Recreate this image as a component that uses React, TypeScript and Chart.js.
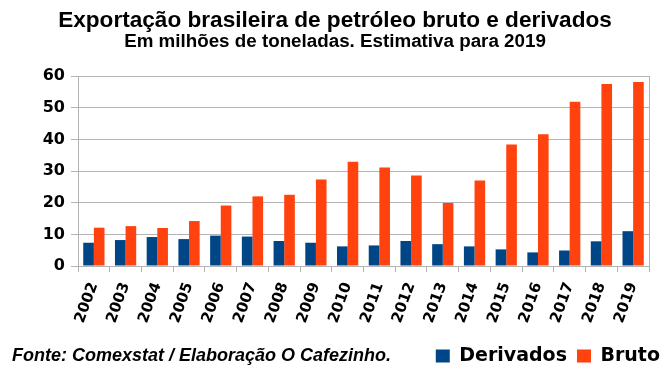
import React, { useEffect, useRef } from "react";
import { Chart, registerables } from "chart.js";

Chart.register(...registerables);

const titleText = "Exportação brasileira de petróleo bruto e derivados";
const subtitleText = "Em milhões de toneladas. Estimativa para 2019";
const footerText = "Fonte: Comexstat / Elaboração O Cafezinho.";

const years = [
  "2002", "2003", "2004", "2005", "2006", "2007", "2008", "2009", "2010",
  "2011", "2012", "2013", "2014", "2015", "2016", "2017", "2018", "2019",
];
const derivados = [7.35, 8.2, 9.15, 8.5, 9.6, 9.3, 7.9, 7.35, 6.2, 6.5, 7.9, 6.9, 6.2, 5.25, 4.3, 4.9, 7.8, 11.0];
const bruto = [12.1, 12.6, 12.0, 14.2, 19.1, 22.0, 22.5, 27.3, 32.9, 31.1, 28.6, 19.9, 27.0, 38.4, 41.6, 51.9, 57.5, 58.1];
const yTicks = [0, 10, 20, 30, 40, 50, 60];

const BLUE = "#004586";
const ORANGE = "#ff420e";
const GRID = "#b3b3b3";

const footerPlugin = {
  id: "footerText",
  afterDraw(chart: any) {
    const lg = chart.legend;
    if (!lg) return;
    const ctx = chart.ctx;
    const y = lg.top + 10 + 19 / 2;
    ctx.save();
    ctx.font = 'italic bold 18px "Liberation Sans", Arial, sans-serif';
    ctx.fillStyle = "#000";
    ctx.textAlign = "left";
    ctx.textBaseline = "middle";
    ctx.fillText(footerText, 12, y);
    ctx.restore();
  },
};

export default function App() {
  const ref = useRef<HTMLCanvasElement | null>(null);
  useEffect(() => {
    if (!ref.current) return;
    const chart = new Chart(ref.current, {
      type: "bar",
      data: {
        labels: years,
        datasets: [
          { label: "Derivados", data: derivados, backgroundColor: BLUE, borderWidth: 0 },
          { label: "Bruto", data: bruto, backgroundColor: ORANGE, borderWidth: 0 },
        ],
      },
      plugins: [footerPlugin],
      options: {
        responsive: false,
        animation: false,
        layout: { padding: { left: 0, right: 2, top: 0, bottom: 3.5 } },
        datasets: { bar: { categoryPercentage: 0.67, barPercentage: 1.0 } },
        plugins: {
          title: {
            display: true,
            text: titleText,
            color: "#000",
            font: { family: '"Liberation Sans", Arial, sans-serif', size: 22.6, weight: "bold", lineHeight: 1.0 },
            padding: { top: 9.5, bottom: 0 },
          },
          subtitle: {
            display: true,
            text: subtitleText,
            color: "#000",
            font: { family: '"Liberation Sans", Arial, sans-serif', size: 18.8, weight: "bold", lineHeight: 1.0 },
            padding: { top: 0.6, bottom: 24.6 },
          },
          legend: {
            display: true,
            position: "bottom",
            align: "end",
            labels: {
              color: "#000",
              boxWidth: 14,
              boxHeight: 13,
              padding: 10,
              font: { family: '"DejaVu Sans", sans-serif', size: 19, weight: "bold" },
            },
          },
          tooltip: { enabled: false },
        },
        scales: {
          x: {
            grid: { display: true, drawOnChartArea: false, offset: true, color: GRID, tickLength: 6 },
            border: { display: true, color: GRID },
            ticks: {
              color: "#000",
              autoSkip: false,
              minRotation: 70,
              maxRotation: 70,
              padding: 8,
              font: { family: '"DejaVu Sans", sans-serif', size: 15, weight: "bold" },
            },
            afterFit(scale: any) {
              scale.height = 70.5;
            },
          },
          y: {
            min: 0,
            max: 60,
            afterBuildTicks(scale: any) {
              scale.ticks = yTicks.map((v) => ({ value: v }));
            },
            grid: { color: GRID, tickLength: 7 },
            border: { display: true, color: GRID },
            ticks: {
              color: "#000",
              padding: 6,
              font: { family: '"DejaVu Sans", sans-serif', size: 16, weight: "bold" },
            },
            afterFit(scale: any) {
              scale.width = 78;
            },
          },
          y2: {
            position: "right",
            min: 0,
            max: 60,
            grid: { display: false, drawOnChartArea: false, drawTicks: false },
            border: { display: true, color: GRID },
            ticks: { display: false },
            afterFit(scale: any) {
              scale.width = 21;
            },
          },
        },
      },
    });
    return () => chart.destroy();
  }, []);
  return (
    <div style={{ position: "fixed", left: 0, top: 0, width: 672, height: 379, background: "#fff" }}>
      <canvas ref={ref} width={672} height={379} style={{ width: 672, height: 379, display: "block" }} />
    </div>
  );
}
